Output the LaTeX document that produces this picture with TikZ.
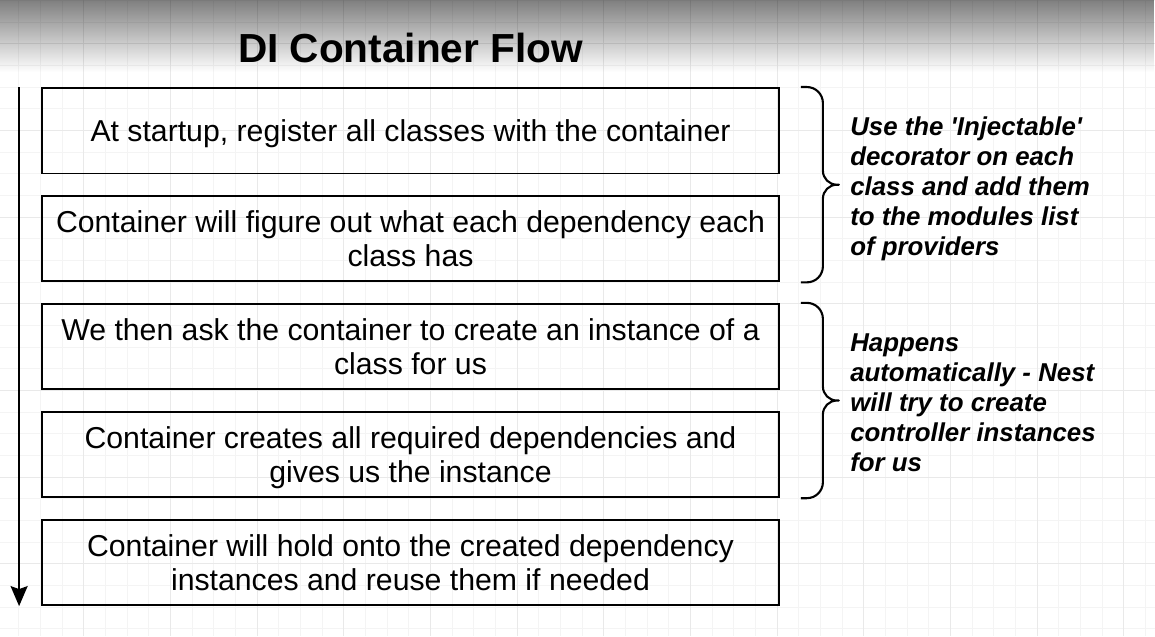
\documentclass[tikz,border=0pt]{standalone}
\usepackage{fontspec}
\setmainfont{Liberation Sans}
\usetikzlibrary{arrows.meta,positioning,calc,fadings}
\definecolor{gridminor}{HTML}{F4F4F4}
\definecolor{gridmajor}{HTML}{E9E9E9}
\tikzfading[name=topfade, top color=transparent!0, bottom color=transparent!100]

\begin{document}
\begin{tikzpicture}[x=0.02cm, y=0.02cm,
  stepbox/.style={draw, line width=1.1pt, minimum width=14.74cm, minimum height=1.71cm,
    inner sep=0pt, text depth=-0.12cm, align=center, font=\fontsize{17.2}{19.3}\selectfont},
  bracestroke/.style={line width=1.2pt, line join=round},
  sidenote/.style={anchor=west, align=left, inner sep=0pt,
    font=\fontsize{14.7}{17}\selectfont\bfseries\itshape}]
  \useasboundingbox (0,0) rectangle (1155,636);
  \fill[white] (0,0) rectangle (1155,636);
  % background grid
  \foreach \gx in {-3,18.667,...,1160}
    \draw[gridminor, line width=0.5pt] (\gx,0) -- (\gx,636);
  \foreach \gy in {635.667,614,...,0}
    \draw[gridminor, line width=0.5pt] (0,\gy) -- (1155,\gy);
  \foreach \gx in {-3,83.667,...,1160}
    \draw[gridmajor, line width=0.5pt] (\gx,0) -- (\gx,636);
  \foreach \gy in {592.333,505.667,...,0}
    \draw[gridmajor, line width=0.5pt] (0,\gy) -- (1155,\gy);
  \fill[black, fill opacity=0.5, path fading=topfade] (0,564) rectangle (1155,636);

  % steps
  \node[stepbox] (register) at (410.5,505.25) {At startup, register all classes with the container};
  \node[stepbox, below=0.41cm of register] (resolve) {Container will figure out what each dependency each\\class has};
  \node[stepbox, below=0.41cm of resolve] (request) {We then ask the container to create an instance of a\\class for us};
  \node[stepbox, below=0.41cm of request] (create) {Container creates all required dependencies and\\gives us the instance};
  \node[stepbox, below=0.41cm of create] (reuse) {Container will hold onto the created dependency\\instances and reuse them if needed};

  \node[anchor=base, font=\fontsize{23.1}{28}\selectfont\bfseries] (title)
    at ([yshift=0.5cm]register.north) {DI Container Flow};

  % flow arrow
  \coordinate (flowtop) at ([xshift=-0.44cm]register.north west);
  \coordinate (flowend) at ([xshift=-0.44cm]reuse.south west);
  \draw[line width=1.1pt, -{Stealth[length=0.4cm, width=0.34cm, inset=0.06cm]}] (flowtop) -- (flowend);

  % curly braces
  \foreach \upper/\lower in {register/resolve, request/create} {
    \coordinate (\upper-bt) at ([xshift=0.42cm]\upper.north east);
    \coordinate (\upper-bb) at ([xshift=0.42cm]\lower.south east);
    \coordinate (\upper-bm) at ($(\upper-bt)!0.5!(\upper-bb)$);
    \coordinate (\upper-tip) at ($(\upper-bm)+(38,0)$);
    \draw[bracestroke] (\upper-bt) -- ++(6,0) arc[start angle=90, end angle=0, radius=16]
      -- ($(\upper-bm)+(22,14)$) arc[start angle=180, end angle=270, radius=14] -- (\upper-tip)
      -- ++(-2,0) arc[start angle=90, end angle=180, radius=14]
      -- ($(\upper-bb)+(22,16)$) arc[start angle=0, end angle=-90, radius=16] -- (\upper-bb);
  }
  \node[sidenote, right=0.22cm of register-tip, yshift=-0.08cm] (setupnote)
    {Use the \textquotesingle Injectable\textquotesingle\\decorator on each\\class and add them\\to the modules list\\of providers};
  \node[sidenote, right=0.22cm of request-tip, yshift=-0.04cm] (autonote)
    {Happens\\automatically - Nest\\will try to create\\controller instances\\for us};
\end{tikzpicture}
\end{document}
